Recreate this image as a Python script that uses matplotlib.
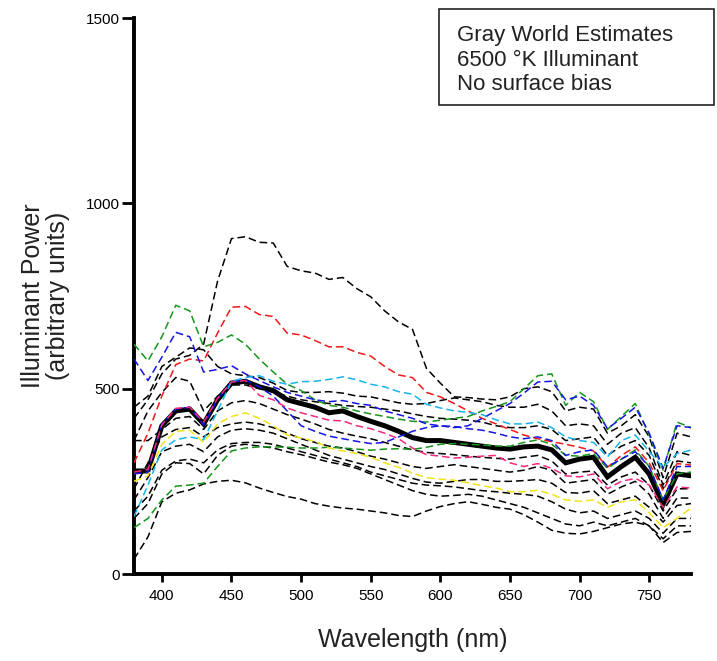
import matplotlib
matplotlib.use('Agg')
import matplotlib.pyplot as plt
from matplotlib.patches import Rectangle

plt.rcParams['font.family'] = ['Liberation Sans', 'DejaVu Sans']

# wavelength grid (nm)
wl = [380, 390, 400, 410, 420, 430, 440, 450, 460, 470, 480, 490, 500, 510,
      520, 530, 540, 550, 560, 570, 580, 590, 600, 610, 620, 630, 640, 650,
      660, 670, 680, 690, 700, 710, 720, 730, 740, 750, 760, 770, 780]

# mean estimate (thick line)
mean_est = [278, 278, 400, 440, 445, 405, 470, 515, 520, 505, 495, 470, 460, 450, 435, 440, 425, 412, 400, 385,
            368, 360, 360, 355, 350, 345, 340, 337, 343, 345, 335, 300, 310, 315, 262, 290, 315, 270, 188, 270, 265]

# individual gray world estimates (dashed)
blk_high = [420, 470, 540, 580, 590, 620, 790, 905, 910, 895, 893, 830, 818, 812, 795, 800, 770, 748, 710, 680,
            660, 555, 515, 478, 476, 472, 470, 478, 500, 505, 492, 440, 450, 445, 380, 400, 430, 370, 260, 380, 370]
red = [300, 380, 480, 565, 580, 575, 650, 720, 722, 700, 695, 650, 645, 630, 613, 613, 598, 588, 560, 537,
       530, 490, 478, 460, 440, 420, 405, 390, 375, 365, 357, 350, 342, 332, 288, 320, 343, 300, 225, 298, 294]
green_hi = [620, 575, 640, 725, 710, 613, 625, 645, 620, 580, 545, 512, 495, 470, 455, 450, 440, 432, 425, 418,
            412, 410, 415, 420, 425, 440, 452, 465, 500, 535, 540, 455, 490, 465, 390, 425, 460, 375, 280, 410, 395]
blue_hi = [580, 522, 585, 652, 640, 545, 552, 562, 540, 522, 505, 490, 480, 470, 465, 468, 460, 455, 440, 430,
           420, 405, 400, 395, 400, 420, 440, 460, 488, 518, 520, 470, 480, 455, 392, 420, 450, 380, 285, 400, 395]
green_lo = [125, 150, 200, 237, 240, 245, 290, 332, 340, 343, 343, 342, 340, 340, 342, 340, 337, 334, 337, 338,
            336, 342, 350, 352, 350, 348, 345, 345, 355, 362, 350, 320, 318, 325, 285, 310, 335, 290, 200, 270, 275]
blue_lo = [270, 275, 405, 445, 450, 402, 472, 518, 523, 505, 480, 440, 400, 385, 372, 365, 358, 352, 355, 370,
           385, 395, 400, 398, 392, 388, 380, 370, 365, 370, 360, 320, 330, 335, 290, 310, 330, 290, 200, 290, 290]
cyan = [155, 240, 335, 362, 370, 362, 440, 520, 530, 535, 520, 512, 519, 520, 525, 532, 524, 512, 505, 492,
        485, 458, 448, 440, 436, 430, 416, 405, 405, 410, 395, 370, 360, 355, 316, 360, 375, 330, 288, 325, 334]
pink = [275, 282, 402, 447, 450, 410, 474, 518, 522, 482, 470, 448, 435, 425, 415, 413, 400, 392, 380, 365,
        340, 322, 318, 313, 315, 318, 320, 300, 290, 298, 285, 265, 262, 270, 230, 250, 258, 240, 180, 235, 232]
yellow = [250, 265, 350, 385, 388, 355, 405, 425, 435, 420, 400, 375, 367, 358, 340, 332, 325, 315, 300, 288,
          272, 260, 256, 253, 246, 238, 232, 222, 222, 226, 215, 200, 196, 200, 180, 195, 200, 165, 125, 150, 178]
blk_b2 = [450, 480, 560, 585, 610, 605, 560, 540, 535, 530, 515, 495, 490, 490, 492, 488, 480, 478, 470, 462,
          458, 460, 468, 475, 470, 465, 455, 450, 450, 458, 440, 400, 405, 400, 350, 380, 395, 340, 240, 330, 320]
blk_b3 = [360, 440, 490, 530, 520, 440, 480, 510, 510, 500, 490, 480, 470, 465, 460, 455, 452, 450, 445, 440,
          432, 425, 420, 418, 415, 410, 400, 395, 395, 400, 390, 360, 365, 370, 320, 345, 360, 320, 230, 305, 300]
blk_b4 = [360, 360, 390, 420, 425, 390, 440, 462, 468, 460, 445, 430, 418, 405, 390, 380, 372, 365, 355, 345,
          335, 328, 325, 322, 318, 315, 312, 310, 315, 320, 305, 270, 275, 278, 240, 262, 275, 240, 170, 230, 230]
blk_l1 = [230, 300, 370, 390, 395, 370, 395, 405, 410, 405, 395, 380, 365, 355, 345, 340, 330, 318, 310, 300,
          290, 285, 290, 295, 290, 285, 280, 275, 280, 290, 280, 245, 250, 255, 215, 235, 250, 215, 150, 205, 205]
blk_l2 = [200, 260, 330, 345, 350, 330, 370, 388, 392, 388, 380, 365, 350, 335, 320, 310, 300, 290, 282, 270,
          258, 248, 245, 250, 255, 255, 250, 250, 252, 255, 245, 220, 218, 225, 190, 200, 210, 180, 140, 185, 190]
blk_l3 = [170, 210, 280, 305, 310, 300, 335, 352, 355, 355, 350, 340, 330, 320, 310, 300, 290, 275, 265, 255,
          245, 240, 238, 235, 230, 225, 222, 218, 215, 210, 195, 175, 165, 170, 150, 160, 170, 150, 110, 150, 150]
blk_l5 = [150, 190, 270, 300, 298, 270, 320, 345, 350, 345, 340, 330, 322, 312, 302, 295, 285, 270, 255, 240,
          225, 215, 210, 212, 215, 210, 200, 190, 180, 165, 150, 135, 130, 140, 130, 140, 150, 130, 95, 130, 130]
blk_low = [40, 100, 195, 218, 227, 243, 250, 253, 246, 232, 220, 209, 202, 190, 183, 178, 175, 170, 165, 158,
           155, 170, 182, 190, 195, 188, 180, 175, 160, 140, 118, 110, 108, 115, 125, 135, 140, 130, 85, 112, 115]

dashed = [
    (blk_high, 'black'), (blk_b2, 'black'), (blk_b3, 'black'), (blk_b4, 'black'),
    (blk_l1, 'black'), (blk_l2, 'black'), (blk_l3, 'black'), (blk_l5, 'black'), (blk_low, 'black'),
    (red, '#f01818'), (green_hi, '#16951c'), (green_lo, '#16951c'),
    (blue_hi, '#1414e6'), (blue_lo, '#1414e6'), (cyan, '#18b4ee'),
    (yellow, '#f2e21a'), (pink, '#f5287e'),
]

fig = plt.figure(figsize=(7.17, 6.61), dpi=100)
ax = fig.add_axes([0.1869, 0.1316, 0.7768, 0.8411])

ax.plot(wl, mean_est, color='black', lw=3.6, solid_joinstyle='miter', zorder=2)
for vals, col in dashed:
    ax.plot(wl, vals, color=col, lw=1.1, ls=(0, (5, 2.6)), zorder=3)

ax.set_xlim(380, 780)
ax.set_ylim(0, 1500)
ax.set_xticks([400, 450, 500, 550, 600, 650, 700, 750])
ax.set_yticks([0, 500, 1000, 1500])
for s in ['top', 'right']:
    ax.spines[s].set_visible(False)
for s in ['left', 'bottom']:
    ax.spines[s].set_linewidth(2.8)
ax.tick_params(axis='x', direction='out', length=6, width=2, labelsize=11, pad=5, colors='black')
ax.tick_params(axis='y', direction='out', length=9, width=2, labelsize=11, pad=1, colors='black')

ax.set_xlabel('Wavelength (nm)', fontsize=18, labelpad=18, color='#222222')
ax.set_ylabel('Illuminant Power\n(arbitrary units)', fontsize=18,
              linespacing=1.05, color='#222222')
ax.yaxis.set_label_coords(-0.115, 0.5)

# note box in the top right corner
fig.patches.append(Rectangle((439 / 717, 1 - 105 / 661), 275 / 717, 96 / 661,
                             transform=fig.transFigure, fill=False, lw=1.2, ec='#222222'))
notes = ['Gray World Estimates', '6500 \u00b0K Illuminant', 'No surface bias']
for i, t in enumerate(notes):
    fig.text(457 / 717, 1 - (40.5 + 25 * i) / 661, t, fontsize=16, va='baseline', ha='left', color='#222222')

fig.savefig('out.png', dpi=100)
